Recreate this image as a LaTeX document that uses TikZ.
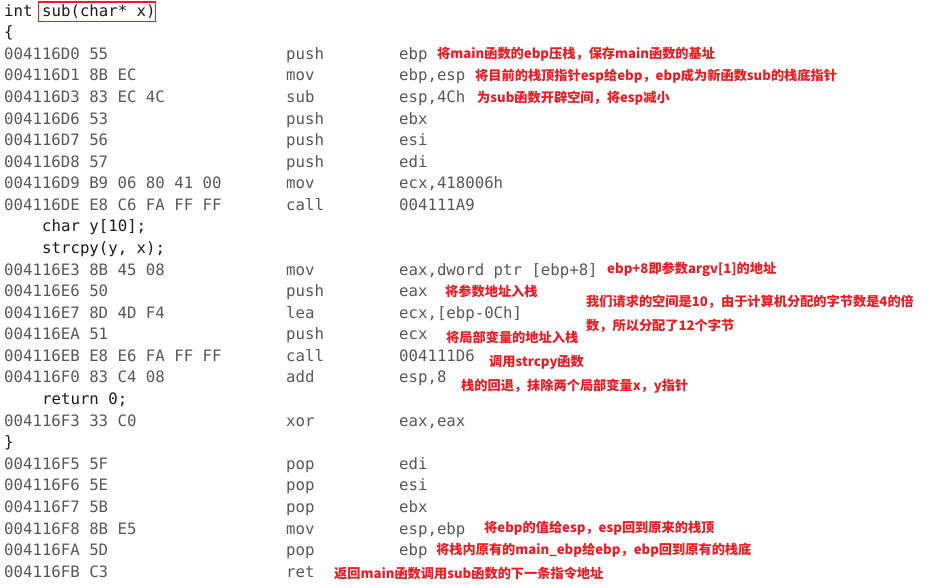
\documentclass[tikz,border=0pt]{standalone}
\usepackage{fontspec}
\newfontfamily\codefont{DejaVu Sans Mono}
\newfontfamily\cjkfont{Noto Sans CJK SC}
\definecolor{codegray}{RGB}{88,88,88}
\definecolor{srcblack}{RGB}{28,28,28}
\definecolor{annred}{RGB}{238,28,36}
\newcommand\asmrow[4]{%
  \node[code] (a#1) at (4,{16.1+21.58*#1}) {#2};
  \node[code] (m#1) at (286,{16.1+21.58*#1}) {#3};
  \node[code] (o#1) at (399,{16.1+21.58*#1}) {#4};}
\newcommand\srcrow[3]{%
  \node[src] (s#1) at (#2,{16.1+21.58*#1}) {#3};}
\begin{document}
\begin{tikzpicture}[x=1pt,y=-1pt,
  code/.style={anchor=base west,inner sep=0pt,font=\codefont\fontsize{15.7}{18}\selectfont,text=codegray},
  src/.style={code,text=srcblack},
  ann/.style={anchor=base west,inner sep=0pt,font=\cjkfont\bfseries\fontsize{13.2}{16}\selectfont,text=annred},
  redbox/.style={draw=annred,line width=1.8pt}]
\useasboundingbox[fill=white] (0,0) rectangle (948,587);
% signature
\node[src] (int) at (4,16.1) {int};
\node[src] (sig) at (42,16.1) {sub(char* x)};
\draw[redbox] (38.5,2) rectangle (155.5,21.5);
\srcrow{1}{4}{\{}
\asmrow{2}{004116D0 55}{push}{ebp}
\asmrow{3}{004116D1 8B EC}{mov}{ebp,esp}
\asmrow{4}{004116D3 83 EC 4C}{sub}{esp,4Ch}
\asmrow{5}{004116D6 53}{push}{ebx}
\asmrow{6}{004116D7 56}{push}{esi}
\asmrow{7}{004116D8 57}{push}{edi}
\asmrow{8}{004116D9 B9 06 80 41 00}{mov}{ecx,418006h}
\asmrow{9}{004116DE E8 C6 FA FF FF}{call}{004111A9}
\srcrow{10}{42}{char y[10];}
\srcrow{11}{42}{strcpy(y, x);}
\asmrow{12}{004116E3 8B 45 08}{mov}{eax,dword ptr [ebp+8]}
\asmrow{13}{004116E6 50}{push}{eax}
\asmrow{14}{004116E7 8D 4D F4}{lea}{ecx,[ebp-0Ch]}
\asmrow{15}{004116EA 51}{push}{ecx}
\asmrow{16}{004116EB E8 E6 FA FF FF}{call}{004111D6}
\asmrow{17}{004116F0 83 C4 08}{add}{esp,8}
\srcrow{18}{42}{return 0;}
\asmrow{19}{004116F3 33 C0}{xor}{eax,eax}
\srcrow{20}{4}{\}}
\asmrow{21}{004116F5 5F}{pop}{edi}
\asmrow{22}{004116F6 5E}{pop}{esi}
\asmrow{23}{004116F7 5B}{pop}{ebx}
\asmrow{24}{004116F8 8B E5}{mov}{esp,ebp}
\asmrow{25}{004116FA 5D}{pop}{ebp}
\asmrow{26}{004116FB C3}{ret}{}
% annotations
\node[ann] (n1) at (437,58) {将main函数的ebp压栈，保存main函数的基址};
\node[ann] (n2) at (475,80) {将目前的栈顶指针esp给ebp，ebp成为新函数sub的栈底指针};
\node[ann] (n3) at (477,102) {为sub函数开辟空间，将esp减小};
\node[ann] (n4) at (607,273) {ebp+8即参数argv[1]的地址};
\node[ann] (n5) at (445,296) {将参数地址入栈};
\node[ann] (n6) at (586,306) {我们请求的空间是10，由于计算机分配的字节数是4的倍};
\node[ann] (n6b) at (586,330) {数，所以分配了12个字节};
\node[ann] (n7) at (446,342) {将局部变量的地址入栈};
\node[ann] (n8) at (489,366) {调用strcpy函数};
\node[ann] (n9) at (461,390) {栈的回退，抹除两个局部变量x，y指针};
\node[ann] (n10) at (484,532) {将ebp的值给esp，esp回到原来的栈顶};
\node[ann] (n11) at (436,554) {将栈内原有的main\_ebp给ebp，ebp回到原有的栈底};
\node[ann] (n12) at (334,578) {返回main函数调用sub函数的下一条指令地址};
\end{tikzpicture}
\end{document}
